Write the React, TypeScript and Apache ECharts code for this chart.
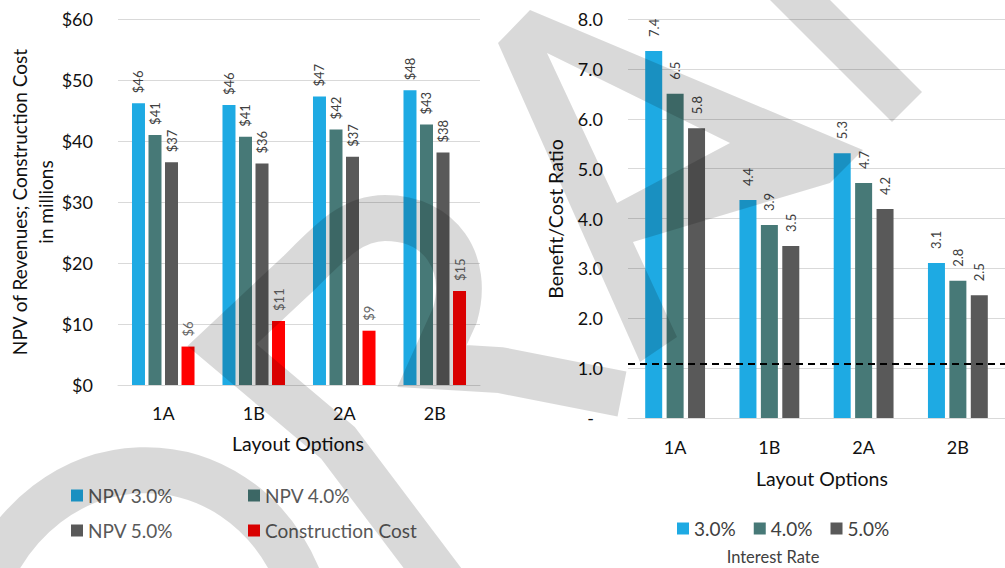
import React, { useEffect, useRef } from "react";
import * as echarts from "echarts";

// ---------- data ----------
const categories = ["1A", "1B", "2A", "2B"];
const npv3 = [46.2, 45.9, 47.3, 48.3];
const npv4 = [41.0, 40.7, 41.9, 42.7];
const npv5 = [36.5, 36.3, 37.4, 38.1];
const constructionCost = [6.3, 10.5, 8.9, 15.4];

const bcr3 = [7.36, 4.37, 5.31, 3.11];
const bcr4 = [6.5, 3.87, 4.71, 2.75];
const bcr5 = [5.81, 3.45, 4.19, 2.46];
const breakEven = 1.08;

const leftTickLabels = ["$0", "$10", "$20", "$30", "$40", "$50", "$60"];
const rightTickLabels = ["-", "1.0", "2.0", "3.0", "4.0", "5.0", "6.0", "7.0", "8.0"];

const leftSeriesNames = ["NPV 3.0%", "NPV 4.0%", "NPV 5.0%", "Construction Cost"];
const rightSeriesNames = ["3.0%", "4.0%", "5.0%"];

// ---------- style ----------
const FONT = "Lato, 'Open Sans', sans-serif";
const BLUE = "#1eaae3";
const TEAL = "#477977";
const DARK = "#595959";
const RED = "#ff0000";
const GRID = "#d9d9d9";
const WM = "rgba(0,0,0,0.15)";

// watermark ("DRAFT") outlines
const WM_A = "M530 10 L863 150 L830 183 L633 242 L677 337 L640 362 L498 43 Z M547 53 L617 203 L730 143 Z";
const WM_T = "M740 -30 L800 -30 L922 92 L892 122 Z";
const WM_D = "M-20 600 C40 430 240 430 300 582";
const WM_R =
  "M452 594 L338 443 L222 345 L300 272 C330 242 352 218 385 218 C440 218 470 262 455 315 L432 366 L500 370 L622 394";

let registered = false;

export default function App() {
  const ref = useRef<HTMLDivElement>(null);

  useEffect(() => {
    if (!ref.current) return;
    if (!registered) {
      echarts.graphic.registerShape("wmA", echarts.graphic.extendPath(WM_A, {}));
      echarts.graphic.registerShape("wmT", echarts.graphic.extendPath(WM_T, {}));
      echarts.graphic.registerShape("wmD", echarts.graphic.extendPath(WM_D, {}));
      echarts.graphic.registerShape("wmR", echarts.graphic.extendPath(WM_R, {}));
      registered = true;
    }
    const chart = echarts.init(ref.current, null, { renderer: "svg" });

    const label = (color: string, dist: number, fmt: (p: any) => string) => ({
      show: true,
      position: "top",
      rotate: 90,
      align: "left",
      verticalAlign: "middle",
      distance: dist,
      color,
      fontSize: 13,
      fontFamily: FONT,
      formatter: fmt,
    });
    const dollar = (p: any) => "$" + Math.round(p.value);
    const ratio = (p: any) => Number(p.value).toFixed(1);

    const leftData = [npv3, npv4, npv5, constructionCost];
    const leftColors = [BLUE, TEAL, DARK, RED];
    const rightData = [bcr3, bcr4, bcr5];
    const rightColors = [BLUE, TEAL, DARK];

    const series: any[] = [];
    leftData.forEach((d, i) => {
      series.push({
        type: "bar",
        name: leftSeriesNames[i],
        xAxisIndex: 0,
        yAxisIndex: 0,
        data: d,
        barWidth: 13,
        barGap: "27%",
        itemStyle: { color: leftColors[i] },
        label: label(i === 3 ? "#666666" : "#404040", 10, dollar),
      });
    });
    rightData.forEach((d, i) => {
      const s: any = {
        type: "bar",
        name: rightSeriesNames[i],
        xAxisIndex: 1,
        yAxisIndex: 1,
        data: d,
        barWidth: 17,
        barGap: "26%",
        itemStyle: { color: rightColors[i] },
        label: label("#404040", 14, ratio),
      };
      if (i === 2) {
        s.markLine = {
          silent: true,
          symbol: ["none", "none"],
          label: { show: false },
          lineStyle: { color: "#000", type: [7, 5], width: 1.8 },
          data: [{ yAxis: breakEven }],
        };
      }
      series.push(s);
    });

    const axisLabelStyle = { color: "#111", fontSize: 18, fontFamily: FONT };
    const legendBase = {
      itemWidth: 12,
      itemHeight: 12,
      icon: "rect",
      padding: 0,
    };

    const option: any = {
      animation: false,
      backgroundColor: "#fff",
      textStyle: { fontFamily: FONT },
      grid: [
        { left: 118, top: 19, width: 362, height: 366 },
        { left: 628, top: 19, width: 377, height: 399 },
      ],
      xAxis: [
        {
          type: "category",
          gridIndex: 0,
          data: categories,
          axisTick: { show: false },
          axisLine: { lineStyle: { color: GRID, width: 1 } },
          axisLabel: { ...axisLabelStyle, margin: 19 },
        },
        {
          type: "category",
          gridIndex: 1,
          data: categories,
          axisTick: { show: false },
          axisLine: { lineStyle: { color: GRID, width: 1 } },
          axisLabel: { ...axisLabelStyle, margin: 20 },
        },
      ],
      yAxis: [
        {
          type: "value",
          gridIndex: 0,
          min: 0,
          max: 60,
          interval: 10,
          splitLine: { lineStyle: { color: GRID, width: 1 } },
          axisLine: { show: false },
          axisTick: { show: false },
          axisLabel: {
            ...axisLabelStyle,
            margin: 25,
            formatter: (v: number) => leftTickLabels[Math.round(v / 10)],
          },
        },
        {
          type: "value",
          gridIndex: 1,
          min: 0,
          max: 8,
          interval: 1,
          splitLine: { lineStyle: { color: GRID, width: 1 } },
          axisLine: { show: false },
          axisTick: { show: false },
          axisLabel: {
            ...axisLabelStyle,
            margin: 25,
            formatter: (v: number) => {
              const t = rightTickLabels[Math.round(v)];
              return v === 0 ? "{z|" + t + "}" : t;
            },
            rich: { z: { ...axisLabelStyle, padding: [0, 9, 0, 0] } },
          },
        },
      ],
      legend: [
        {
          ...legendBase,
          data: [leftSeriesNames[0], leftSeriesNames[2]],
          orient: "vertical",
          left: 71,
          top: 486,
          itemGap: 16,
          textStyle: { color: "#595959", fontSize: 19, fontFamily: FONT },
        },
        {
          ...legendBase,
          data: [leftSeriesNames[1], leftSeriesNames[3]],
          orient: "vertical",
          left: 248,
          top: 486,
          itemGap: 16,
          textStyle: { color: "#595959", fontSize: 19, fontFamily: FONT },
        },
        {
          ...legendBase,
          data: rightSeriesNames,
          orient: "horizontal",
          left: 677,
          top: 519,
          itemGap: 18,
          textStyle: { color: "#404040", fontSize: 19, fontFamily: FONT },
        },
      ],
      graphic: {
        elements: [
          {
            type: "text",
            x: 32,
            y: 202,
            rotation: Math.PI / 2,
            style: {
              text: "NPV of Revenues; Construction Cost\nin millions",
              fill: "#111",
              font: "19px " + FONT,
              textAlign: "center",
              textVerticalAlign: "middle",
              lineHeight: 26,
            },
          },
          {
            type: "text",
            x: 298,
            y: 443,
            style: { text: "Layout Options", fill: "#111", font: "19.5px " + FONT, textAlign: "center", textVerticalAlign: "middle" },
          },
          {
            type: "text",
            x: 555,
            y: 219,
            rotation: Math.PI / 2,
            style: { text: "Benefit/Cost Ratio", fill: "#111", font: "19.5px " + FONT, textAlign: "center", textVerticalAlign: "middle" },
          },
          {
            type: "text",
            x: 822,
            y: 478,
            style: { text: "Layout Options", fill: "#111", font: "19.5px " + FONT, textAlign: "center", textVerticalAlign: "middle" },
          },
          {
            type: "text",
            x: 773,
            y: 557,
            style: { text: "Interest Rate", fill: "#404040", font: "16.5px " + FONT, textAlign: "center", textVerticalAlign: "middle" },
          },
          { type: "wmA", x: 0, y: 0, z: 100, silent: true, style: { fill: WM, stroke: "none" } },
          { type: "wmT", x: 0, y: 0, z: 100, silent: true, style: { fill: WM, stroke: "none" } },
          {
            type: "wmD",
            x: 0,
            y: 0,
            z: 100,
            silent: true,
            style: { fill: "none", stroke: WM, lineWidth: 46, lineCap: "butt" },
          },
          {
            type: "wmR",
            x: 0,
            y: 0,
            z: 100,
            silent: true,
            style: { fill: "none", stroke: WM, lineWidth: 46, lineJoin: "miter", miterLimit: 10, lineCap: "butt" },
          },
        ],
      },
      series,
    };

    chart.setOption(option);
    return () => chart.dispose();
  }, []);

  return <div ref={ref} style={{ position: "absolute", left: 0, top: 0, width: 1005, height: 568 }} />;
}
